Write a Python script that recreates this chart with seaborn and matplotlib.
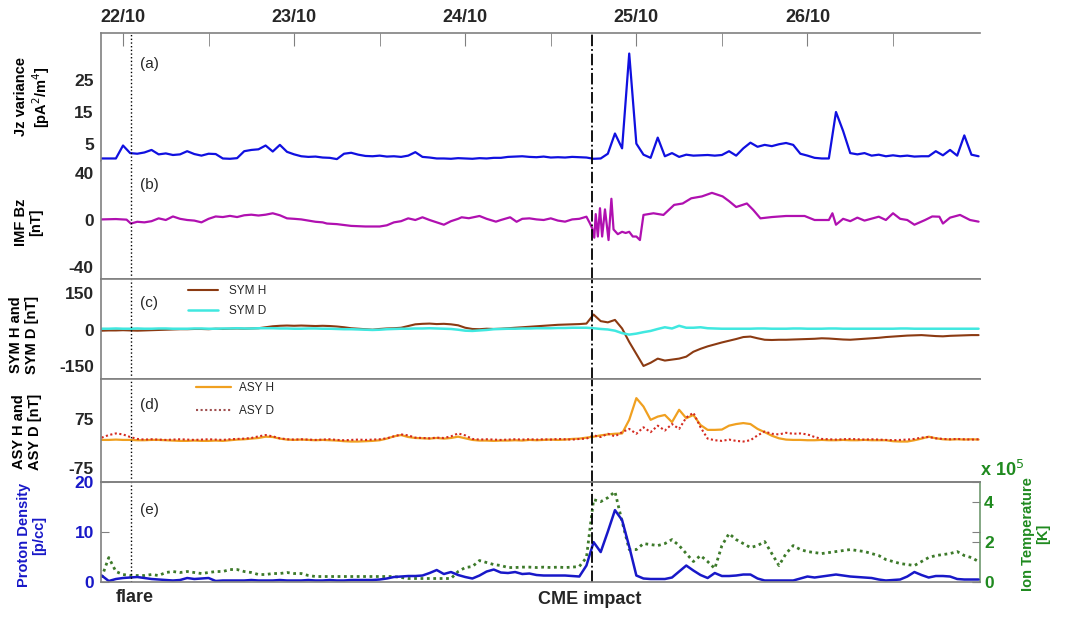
# %% Importações
import numpy as np
import matplotlib
matplotlib.use("Agg")
import matplotlib.pyplot as plt
import seaborn as sns


# %% Dados (horas contadas a partir de 22/10 00:00)

# grade horária comum: de 21/10 21:00 até 27/10 00:00
horas = np.arange(-3, 121)

# (a) variância de Jz [pA^2/m^4]
jz_variancia = [
    0.3, 0.3, 0.3, 4.4, 2.0, 1.8, 2.2, 3.0, 1.6, 1.9, 1.4, 1.6,      # -3..8
    2.6, 1.7, 1.2, 1.8, 1.7, 0.3, 0.2, 0.4, 2.6, 3.0, 3.2, 4.4,      # 9..20
    2.5, 4.6, 2.4, 1.6, 1.0, 0.8, 0.9, 0.6, 0.5, 0.1, 1.8, 2.1,      # 21..32
    1.5, 1.1, 1.0, 1.2, 0.9, 1.0, 0.8, 1.2, 2.3, 0.8, 0.6, 0.3,      # 33..44
    0.3, 0.2, 0.4, 0.3, 0.2, 0.4, 0.3, 0.5, 0.5, 0.8, 0.9, 1.0,      # 45..56
    0.8, 0.7, 0.9, 0.6, 0.7, 0.6, 0.8, 0.7, 0.6, 0.2, 0.3, 1.8,      # 57..68
    8.2, 3.5, 33.5, 5.0, 1.5, 0.5, 6.9, 1.0, 2.0, 0.8, 1.5, 1.2,     # 69..80
    1.3, 1.4, 1.2, 1.4, 2.6, 1.2, 3.5, 5.3, 4.0, 4.6, 4.2, 4.8,      # 81..92
    5.2, 4.6, 1.8, 1.2, 0.5, 0.3, 0.3, 15.0, 9.0, 2.0, 1.6, 2.0,     # 93..104
    1.2, 1.5, 1.0, 1.3, 1.0, 1.2, 0.9, 1.0, 1.0, 2.6, 1.3, 3.0,      # 105..116
    1.2, 7.6, 1.5, 1.0,                                              # 117..120
]

# (b) IMF Bz [nT] - amostragem irregular para pegar as oscilações do CME
bz_horas = [
    -3, -1, 0.5, 1.1, 2, 3, 4, 5, 6, 7, 8, 9, 10, 11, 12, 13, 14, 15, 16,
    17, 18, 19, 20, 21, 22, 23, 24, 25, 26, 27, 28, 28.6, 30, 32, 34, 36,
    37, 38, 39, 40, 41, 42, 43, 44, 45, 46, 47, 47.5, 48.5, 50, 51, 52.3,
    53, 54.3, 55.2, 56, 57, 58, 59, 60, 61, 62, 63, 64, 65, 65.5, 65.8,
    66.1, 66.3, 66.6, 66.9, 67.2, 67.6, 68.1, 68.5, 68.8, 69.4, 70, 70.5,
    71, 71.5, 72, 72.5, 73, 74.4, 75.8, 77.3, 78.5, 79.7, 81.2, 82.6,
    84.1, 85, 86, 87.5, 88.4, 89.4, 91, 93, 95.6, 97, 99, 99.5, 100, 101,
    102, 103, 104, 106, 107, 108, 109, 110, 111, 112.5, 113.5, 114.5,
    115, 116, 117.4, 118.8, 120,
]
bz_valores = [
    0.5, 0.8, 0.3, -3, -1.5, -2, -1, 1.4, 0, 3, 1, 0, -0.5, -2, 1, 3, 2.5,
    3.5, 2.5, 4, 4.5, 3.8, 4.5, 5.7, 4, 1.4, 1, 0.5, -0.5, -1.5, -2, -3,
    -3.5, -5, -5.5, -5.5, -4.5, -2, -1, 1.4, 0, 2.3, 0, -2, -4, -1, 1, 2.3,
    1.5, 3.4, 1, -1.4, 0, 2.3, -1.5, 1, 1.4, 0.5, 0, 1.4, -0.5, -1.4, 0.5,
    1, 2.8, -3, -7, -15, 5, -14, 10, -14, 9, -17, 18, -8, -12, -10, -11,
    -10, -14, -14, -17, 4.3, 5.7, 4.3, 12.8, 14, 18.4, 20, 23, 20, 16, 11,
    14, 8.5, 1.4, 2.5, 3.4, 3.4, 0, 0, 5.7, -4, 1, -1, 2, -0.5, 2.8, 0,
    5.7, 1, 0, -4, 0, 3, 2.8, -3, 2, 4.3, 0, -1.4,
]

# (c) SYM H e SYM D [nT]
sym_h = [
    -4, -3, -3, -2, -3, -4, -3, -2, -1, 0, 1, 2,
    2, 3, 3, 2, 4, 3, 4, 5, 4, 5, 6, 10,
    14, 16, 17, 16, 17, 16, 15, 16, 15, 13, 10, 6,
    4, 2, 0, 3, 5, 6, 8, 15, 22, 24, 25, 23,
    24, 22, 18, 8, 3, 2, 4, 3, 4, 6, 8, 10,
    12, 14, 16, 18, 20, 21, 22, 23, 25, 62, 35, 30,
    40, 5, -50, -99, -148, -135, -118, -126, -122, -118, -110, -90,
    -78, -68, -60, -52, -45, -38, -30, -28, -35, -41, -42, -41,
    -41, -40, -39, -38, -37, -35, -36, -38, -40, -41, -39, -37,
    -35, -33, -30, -28, -26, -24, -23, -22, -24, -26, -27, -25,
    -24, -23, -22, -22,
]
sym_d = [
    4, 4, 5, 4, 4, 5, 4, 4, 5, 5, 4, 4,
    4, 5, 5, 4, 4, 5, 5, 6, 5, 5, 6, 6,
    6, 5, 5, 4, 4, 5, 5, 4, 4, 3, 2, 2,
    1, 0, -1, 0, 2, 3, 4, 4, 5, 5, 6, 5,
    4, 3, 0, -4, -5, -3, -1, 2, 3, 4, 4, 5,
    5, 6, 6, 6, 7, 7, 8, 8, 8, 6, 3, 1,
    -4, -14, -20, -16, -10, -5, 3, 10, 5, 16, 8, 8,
    10, 6, 5, 4, 4, 4, 4, 4, 5, 5, 4, 4,
    4, 5, 5, 4, 4, 4, 5, 5, 4, 4, 4, 4,
    4, 4, 4, 4, 5, 5, 4, 4, 4, 4, 4, 4,
    4, 4, 4, 4,
]

# (d) ASY H e ASY D [nT]
asy_h = [
    11, 11, 12, 11, 11, 10, 10, 11, 11, 10, 9, 8,
    8, 9, 8, 8, 9, 8, 10, 12, 13, 15, 17, 21,
    20, 15, 12, 11, 12, 11, 10, 11, 10, 9, 7, 6,
    6, 7, 8, 10, 15, 22, 26, 20, 17, 16, 15, 17,
    15, 17, 21, 16, 11, 9, 9, 8, 9, 9, 10, 9,
    11, 10, 11, 12, 11, 12, 14, 15, 18, 21, 25, 28,
    30, 31, 73, 140, 114, 73, 83, 88, 66, 104, 78, 88,
    57, 42, 42, 43, 55, 60, 63, 60, 45, 35, 24, 16,
    12, 11, 11, 10, 10, 11, 10, 10, 11, 10, 10, 11,
    10, 10, 10, 7, 6, 6, 10, 15, 21, 16, 13, 12,
    13, 12, 13, 12,
]
asy_d = [
    18, 26, 31, 28, 20, 14, 12, 13, 12, 11, 12, 13,
    12, 11, 12, 13, 12, 11, 13, 14, 15, 17, 22, 26,
    22, 16, 13, 12, 13, 12, 11, 12, 13, 11, 10, 11,
    12, 11, 12, 13, 16, 22, 28, 25, 18, 17, 16, 18,
    17, 22, 31, 25, 14, 12, 13, 12, 11, 12, 13, 12,
    13, 12, 13, 12, 14, 13, 12, 14, 15, 25, 20, 30,
    22, 35, 45, 30, 50, 35, 55, 40, 60, 45, 80, 95,
    50, 15, 10, 8, 12, 8, 6, 10, 25, 37, 30, 28,
    33, 30, 31, 28, 20, 14, 13, 12, 13, 14, 13, 12,
    13, 12, 11, 10, 11, 12, 14, 18, 20, 16, 14, 13,
    14, 13, 12, 13,
]

# (e) densidade de prótons [p/cc] e temperatura dos íons [x 10^5 K]
densidade = [
    1.2, 0.1, 0.5, 0.7, 0.8, 0.9, 0.7, 0.5, 0.4, 0.3, 0.2, 0.3,
    0.7, 0.5, 0.6, 0.7, 0.1, 0.2, 0.2, 0.2, 0.2, 0.3, 0.2, 0.2,
    0.2, 0.3, 0.2, 0.2, 0.2, 0.3, 0.2, 0.2, 0.3, 0.2, 0.2, 0.3,
    0.3, 0.3, 0.3, 0.4, 0.6, 0.9, 1.0, 1.1, 1.1, 1.2, 1.7, 2.3,
    1.5, 1.9, 1.3, 0.9, 0.6, 1.2, 2.0, 2.4, 1.8, 1.7, 1.9, 1.5,
    1.6, 1.3, 1.2, 1.2, 1.2, 1.2, 1.1, 1.0, 3.2, 7.9, 5.9, 10.0,
    14.3, 12.3, 7.0, 1.2, 0.6, 0.5, 0.5, 0.5, 0.8, 2.0, 3.2, 2.2,
    1.3, 0.7, 1.7, 1.1, 1.1, 1.2, 1.4, 1.4, 0.6, 0.2, 0.2, 0.2,
    0.2, 0.2, 0.6, 1.0, 0.8, 1.0, 1.2, 1.4, 1.2, 1.0, 0.9, 0.8,
    0.7, 0.4, 0.2, 0.3, 0.4, 1.0, 1.9, 1.3, 0.8, 1.1, 1.1, 1.0,
    0.5, 0.4, 0.4, 0.4,
]
temperatura = [
    0.2, 1.2, 0.5, 0.35, 0.3, 0.3, 0.3, 0.35, 0.3, 0.45, 0.5, 0.45,
    0.5, 0.45, 0.4, 0.45, 0.5, 0.5, 0.6, 0.6, 0.5, 0.45, 0.35, 0.35,
    0.4, 0.4, 0.45, 0.4, 0.4, 0.3, 0.25, 0.25, 0.25, 0.25, 0.25, 0.25,
    0.25, 0.25, 0.25, 0.25, 0.25, 0.25, 0.2, 0.15, 0.15, 0.15, 0.15, 0.15,
    0.15, 0.15, 0.5, 0.7, 0.75, 1.05, 0.95, 0.85, 0.8, 0.7, 0.7, 0.72,
    0.72, 0.7, 0.72, 0.7, 0.72, 0.7, 0.72, 0.75, 1.2, 4.1, 4.0, 4.2,
    4.5, 3.0, 1.6, 1.6, 1.9, 1.85, 1.8, 1.9, 2.1, 1.8, 1.4, 1.0,
    1.3, 1.0, 0.65, 1.8, 2.4, 2.1, 1.9, 1.7, 1.8, 2.0, 1.4, 0.8,
    1.4, 1.8, 1.6, 1.5, 1.45, 1.4, 1.45, 1.5, 1.55, 1.6, 1.55, 1.5,
    1.4, 1.3, 1.1, 1.0, 0.9, 0.85, 0.8, 1.0, 1.2, 1.3, 1.35, 1.4,
    1.5, 1.3, 1.2, 1.0,
]

# eixo do tempo: rótulos dos dias e eventos
dias_horas = [0, 24, 48, 72, 96]
dias_rotulos = ["22/10", "23/10", "24/10", "25/10", "26/10"]
hora_flare = 1.1
hora_cme = 65.8


# %% Estilo geral

sns.set_style("white")
plt.rcParams["font.family"] = ["Liberation Sans", "DejaVu Sans"]
plt.rcParams["axes.unicode_minus"] = False

CINZA = "#808080"
AZUL = "#1818c8"
VERDE = "#1f8a1f"
TAM_TICK = 12.5

fig = plt.figure(figsize=(10.69, 6.17), dpi=100)

# limites verticais de cada painel em pixels (de cima para baixo)
limites_px = [33, 161, 279, 378.7, 481.7, 581.5]
esquerda, largura = 100.7 / 1069, 879.3 / 1069

eixos = []
for i in range(5):
    topo, base = limites_px[i], limites_px[i + 1]
    ax = fig.add_axes([esquerda, 1 - base / 617, largura, (base - topo) / 617])
    ax.set_xlim(-3.13, 120.2)
    for lado, spine in ax.spines.items():
        spine.set_color(CINZA)
        spine.set_linewidth(1.2)
    ax.spines["right"].set_visible(False)
    ax.tick_params(axis="y", direction="in", length=6, color=CINZA,
                   labelsize=TAM_TICK, pad=5)
    ax.tick_params(axis="x", bottom=False, labelbottom=False)
    eixos.append(ax)

ax_a, ax_b, ax_c, ax_d, ax_e = eixos
ax_a.spines["bottom"].set_visible(False)
ax_b.spines["top"].set_visible(False)


# %% Painéis

# (a) Jz
sns.lineplot(x=horas, y=jz_variancia, ax=ax_a, color="#1010e0", lw=1.6)
ax_a.set_ylim(-0.5, 40)
ax_a.set_yticks([5, 15, 25])

# eixo superior com as datas
ax_a.xaxis.tick_top()
ax_a.set_xticks(dias_horas)
ax_a.set_xticklabels(dias_rotulos)
ax_a.set_xticks([12, 36, 60, 84, 108], minor=True)
ax_a.tick_params(axis="x", which="both", top=True, labeltop=True,
                 bottom=False, labelbottom=False, direction="in",
                 length=9, color=CINZA, labelsize=13, pad=5)
for rotulo in ax_a.get_xticklabels():
    rotulo.set_fontweight("bold")

# (b) IMF Bz
sns.lineplot(x=bz_horas, y=bz_valores, ax=ax_b, color="#b010b0", lw=1.6,
             sort=False)
ax_b.set_ylim(-50, 50)
ax_b.set_yticks([-40, 0, 40])

# (c) SYM H / SYM D
sns.lineplot(x=horas, y=sym_h, ax=ax_c, color="#8b3a12", lw=1.5, label="SYM H")
sns.lineplot(x=horas, y=sym_d, ax=ax_c, color="#40e8e0", lw=1.8, label="SYM D")
ax_c.set_ylim(-200, 207)
ax_c.set_yticks([-150, 0, 150])
ax_c.legend(loc="upper left", bbox_to_anchor=(0.099, 0.94), frameon=False,
            fontsize=8.5, handlelength=2.6, handletextpad=0.9,
            labelspacing=0.7, borderpad=0, borderaxespad=0)

# (d) ASY H / ASY D
sns.lineplot(x=horas, y=asy_h, ax=ax_d, color="#f0a020", lw=1.6, label="ASY H")
sns.lineplot(x=horas, y=asy_d, ax=ax_d, color="#d42a20", lw=1.5,
             linestyle=(0, (1, 1.2)), label="ASY D")
ax_d.set_ylim(-118, 200)
ax_d.set_yticks([-75, 75])
leg = ax_d.legend(loc="upper left", bbox_to_anchor=(0.108, 0.97), frameon=False,
                  fontsize=8.5, handlelength=3.0, handletextpad=0.7,
                  labelspacing=0.95, borderpad=0, borderaxespad=0)
leg.get_lines()[1].set_color("#a05050")

# (e) densidade e temperatura
ax_t = ax_e.twinx()
sns.lineplot(x=horas, y=temperatura, ax=ax_t, color="#3d7a2a", lw=2.0,
             linestyle=(0, (1, 1.3)))
sns.lineplot(x=horas, y=densidade, ax=ax_e, color=AZUL, lw=1.8)
ax_e.set_zorder(ax_t.get_zorder() + 1)
ax_e.patch.set_visible(False)
ax_e.set_ylim(0, 20)
ax_e.set_yticks([0, 10, 20])
ax_e.tick_params(axis="y", labelcolor=AZUL, right=True, labelright=False)

ax_t.set_xlim(-3.13, 120.2)
ax_t.set_ylim(0, 5)
ax_t.set_yticks([0, 2, 4])
for lado, spine in ax_t.spines.items():
    spine.set_visible(lado == "right")
ax_t.spines["right"].set_color("#6f9a6f")
ax_t.spines["right"].set_linewidth(1.2)
ax_t.tick_params(axis="y", direction="in", length=6, color=CINZA,
                 labelsize=TAM_TICK, labelcolor=VERDE, pad=3)

for ax in eixos + [ax_t]:
    ax.set_ylabel("")
    for rotulo in ax.get_yticklabels():
        rotulo.set_fontweight("bold")

# linhas verticais do flare e do impacto do CME
for ax in eixos:
    ax.axvline(hora_flare, color="k", ls=":", lw=1.0)
    ax.axvline(hora_cme, color="k", ls="-.", lw=1.3)

# rótulos dos painéis
for ax, letra, y_px in zip(eixos, "abcde", [64, 185, 303, 405, 510]):
    fig.text(140 / 1069, 1 - y_px / 617, f"({letra})", fontsize=11,
             ha="left", va="center")


# %% Títulos dos eixos e textos soltos

rotulos_y = [
    ("Jz variance\n[pA$^2$/m$^4$]", 33, 97, "black"),
    ("IMF Bz\n[nT]", 29, 222, "black"),
    ("SYM H and\nSYM D [nT]", 24, 335, "black"),
    ("ASY H and\nASY D [nT]", 27, 432, "black"),
    ("Proton Density\n[p/cc]", 32, 535, AZUL),
]
for texto, x_px, y_px, cor in rotulos_y:
    fig.text(x_px / 1069, 1 - y_px / 617, texto, rotation=90, ha="center",
             va="center", fontsize=10.5, fontweight="bold", color=cor,
             multialignment="center", linespacing=1.1)

fig.text(1036 / 1069, 1 - 534 / 617, "Ion Temperature\n[K]", rotation=90,
         ha="center", va="center", fontsize=10.5, fontweight="bold",
         color=VERDE, multialignment="center", linespacing=1.1)
fig.text(980 / 1069, 1 - 470 / 617, "x 10$^5$", ha="left", va="center",
         fontsize=13, fontweight="bold", color=VERDE)

fig.text(135 / 1069, 1 - 598 / 617, "flare", ha="center", va="center",
         fontsize=13, fontweight="bold")
fig.text(590 / 1069, 1 - 599 / 617, "CME impact", ha="center", va="center",
         fontsize=13, fontweight="bold")

fig.savefig("out.png", dpi=100)
